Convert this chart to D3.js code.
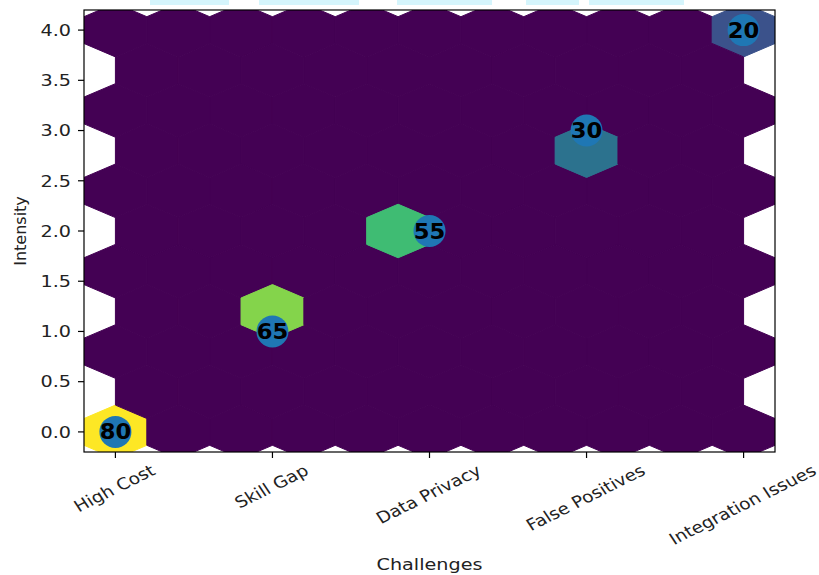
<!DOCTYPE html>
<html><head><meta charset="utf-8">
<script src="https://cdn.jsdelivr.net/npm/d3@7"></script>
<style>body{margin:0;background:#fff}svg{display:block}text{font-family:"DejaVu Sans",sans-serif}</style>
</head><body>
<svg id="chart" width="819" height="575"></svg>
<script>
// ---- data ----
const categories = ["High Cost", "Skill Gap", "Data Privacy", "False Positives", "Integration Issues"];
const intensity = [0, 1, 2, 3, 4];
const values = [80, 65, 55, 30, 20];
const yTicks = [0, 0.5, 1, 1.5, 2, 2.5, 3, 3.5, 4];
const gridSize = 10;
const xLabel = "Challenges";
const yLabel = "Intensity";

// ---- layout ----
const L = 84, R = 775, T = 10, B = 452;
const stretch = 1.2;
const svg = d3.select("#chart");

const xs = categories.map((c, i) => i);
const x = d3.scaleLinear().domain([-0.2, 4.2]).range([L, R]);
const y = d3.scaleLinear().domain([-0.2, 4.2]).range([B, T]);

// ---- hexbin (matplotlib algorithm) ----
function roundHalfEven(v) {
  const f = Math.floor(v), d = v - f;
  if (d === 0.5) return (f % 2 === 0) ? f : f + 1;
  return Math.round(v);
}
const xmin0 = d3.min(xs), xmax0 = d3.max(xs);
const pad = 1e-9 * (xmax0 - xmin0);
const xmin = xmin0 - pad, xmax = xmax0 + pad;
const ymin = d3.min(intensity), ymax = d3.max(intensity);
const nx = gridSize, ny = Math.floor(nx / Math.sqrt(3));
const sx = (xmax - xmin) / nx, sy = (ymax - ymin) / ny;

const cells = [];
const key = (l, i, j) => l + ":" + i + ":" + j;
const cellMap = new Map();
for (let i = 0; i <= nx; i++) for (let j = 0; j <= ny; j++) {
  const c = {cx: xmin + i * sx, cy: ymin + j * sy, v: 0};
  cells.push(c); cellMap.set(key(1, i, j), c);
}
for (let i = 0; i < nx; i++) for (let j = 0; j < ny; j++) {
  const c = {cx: xmin + (i + 0.5) * sx, cy: ymin + (j + 0.5) * sy, v: 0};
  cells.push(c); cellMap.set(key(2, i, j), c);
}
xs.forEach((xv, k) => {
  const ix = (xv - xmin) / sx, iy = (intensity[k] - ymin) / sy;
  const ix1 = roundHalfEven(ix), iy1 = roundHalfEven(iy);
  const ix2 = Math.floor(ix), iy2 = Math.floor(iy);
  const d1 = (ix - ix1) ** 2 + 3 * (iy - iy1) ** 2;
  const d2 = (ix - ix2 - 0.5) ** 2 + 3 * (iy - iy2 - 0.5) ** 2;
  const c = d1 < d2 ? cellMap.get(key(1, ix1, iy1)) : cellMap.get(key(2, ix2, iy2));
  if (c) c.v += values[k];
});
const vmax = d3.max(cells, c => c.v);
const color = v => d3.interpolateViridis(v / vmax);

// matplotlib hexagon: [sx, sy/3] * [[.5,-.5],[.5,.5],[0,1],[-.5,.5],[-.5,-.5],[0,-1]]
const hexPts = [[0.5, -0.5], [0.5, 0.5], [0, 1], [-0.5, 0.5], [-0.5, -0.5], [0, -1]];
const hexPath = c => "M" + hexPts.map(p => [x(c.cx + p[0] * sx), y(c.cy + p[1] * sy / 3)].join(",")).join("L") + "Z";

svg.append("defs").append("clipPath").attr("id", "clip")
  .append("rect").attr("x", L).attr("y", T).attr("width", R - L).attr("height", B - T);

// title remnants (cut off at top of the image)
const titleBits = [[150, 229], [259, 359], [397, 492], [526, 579], [589, 684]];
svg.append("g").selectAll("rect").data(titleBits).join("rect")
  .attr("x", d => d[0]).attr("y", 0).attr("width", d => d[1] - d[0]).attr("height", 5)
  .attr("fill", "#d5f5fc");

const plot = svg.append("g").attr("clip-path", "url(#clip)");
plot.selectAll("path.hex").data(cells).join("path").attr("class", "hex")
  .attr("d", hexPath).attr("fill", d => color(d.v)).attr("stroke", d => color(d.v)).attr("stroke-width", 1);

// scatter points
plot.selectAll("circle").data(values).join("circle")
  .attr("cx", (d, i) => x(xs[i])).attr("cy", (d, i) => y(intensity[i])).attr("r", 16)
  .attr("fill", "#1f77b4");

// value labels
svg.append("g").selectAll("text").data(values).join("text")
  .attr("transform", (d, i) => `translate(${x(xs[i])},${y(intensity[i])}) scale(1.08,1)`)
  .attr("text-anchor", "middle").attr("dy", "0.36em")
  .attr("font-size", 21).attr("font-weight", "bold").attr("fill", "#000")
  .text(d => d);

// frame
svg.append("rect").attr("x", L).attr("y", T).attr("width", R - L).attr("height", B - T)
  .attr("fill", "none").attr("stroke", "#000").attr("stroke-width", 1.2);

// y axis
const yg = svg.append("g");
yg.selectAll("line").data(yTicks).join("line")
  .attr("x1", L - 6).attr("x2", L).attr("y1", d => y(d)).attr("y2", d => y(d))
  .attr("stroke", "#000").attr("stroke-width", 1.2);
yg.selectAll("text").data(yTicks).join("text")
  .attr("transform", d => `translate(${L - 13},${y(d)}) scale(${stretch},1)`)
  .attr("text-anchor", "end").attr("dy", "0.36em").attr("font-size", 16).attr("fill", "#222")
  .text(d => d.toFixed(1));

// x axis
const xg = svg.append("g");
xg.selectAll("line").data(xs).join("line")
  .attr("x1", d => x(d)).attr("x2", d => x(d)).attr("y1", B).attr("y2", B + 6)
  .attr("stroke", "#000").attr("stroke-width", 1.2);
const xt = xg.selectAll("text").data(categories).join("text")
  .attr("text-anchor", "middle").attr("dominant-baseline", "central")
  .attr("font-size", 16).attr("fill", "#222").text(d => d);
xt.each(function(d, i) {
  const w = this.getComputedTextLength();
  const h = 16 * 1.15;
  const a = Math.PI / 6;
  const hh = w * Math.sin(a) + h * Math.cos(a);
  d3.select(this).attr("transform", `translate(${x(xs[i]) - 1},${B + 9 + hh / 2}) scale(1.16,1) rotate(-30)`);
});

// axis labels
svg.append("text").attr("transform", `translate(${(L + R) / 2},${570}) scale(${stretch},1)`)
  .attr("text-anchor", "middle").attr("font-size", 16).attr("fill", "#222").text(xLabel);
svg.append("text").attr("transform", `translate(${26},${(T + B) / 2}) rotate(-90)`)
  .attr("text-anchor", "middle").attr("font-size", 16).attr("fill", "#222").text(yLabel);
</script>
</body></html>
